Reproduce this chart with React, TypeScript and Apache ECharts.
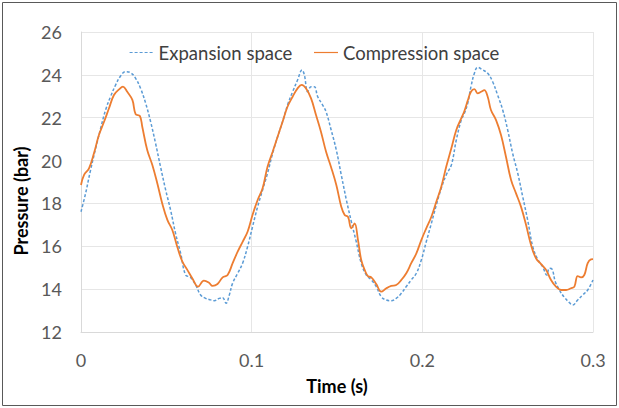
import React, { useEffect, useRef } from "react";
import * as echarts from "echarts";

const expansionTime = [0, 0.0027, 0.0056, 0.0086, 0.0115, 0.0144, 0.0173, 0.0203, 0.0232, 0.0261, 0.0291, 0.032, 0.0349, 0.0379, 0.0408, 0.0437, 0.0466, 0.0496, 0.0525, 0.0554, 0.0584, 0.0613, 0.0642, 0.0672, 0.0701, 0.073, 0.0759, 0.0781, 0.081, 0.083, 0.085, 0.0869, 0.0888, 0.0918, 0.0947, 0.0976, 0.1005, 0.1035, 0.1064, 0.1093, 0.1123, 0.1152, 0.1181, 0.121, 0.124, 0.1269, 0.1295, 0.1309, 0.1328, 0.1348, 0.1367, 0.1387, 0.1416, 0.1436, 0.1465, 0.1496, 0.1525, 0.1555, 0.1584, 0.1613, 0.1642, 0.1672, 0.1701, 0.173, 0.1759, 0.1789, 0.1818, 0.1847, 0.1877, 0.1906, 0.1935, 0.1965, 0.1994, 0.2023, 0.2053, 0.2082, 0.2111, 0.214, 0.217, 0.2199, 0.2228, 0.2246, 0.2266, 0.2285, 0.2305, 0.2324, 0.2354, 0.2383, 0.2412, 0.2441, 0.2471, 0.25, 0.2529, 0.2559, 0.2588, 0.2617, 0.2647, 0.2676, 0.2705, 0.2729, 0.2744, 0.276, 0.2779, 0.2803, 0.2832, 0.2862, 0.2881, 0.291, 0.294, 0.2969, 0.3];
const expansionPressure = [17.61, 18.47, 19.56, 20.57, 21.5, 22.36, 22.98, 23.53, 23.95, 24.15, 24.1, 23.84, 23.37, 22.67, 21.81, 20.8, 19.71, 18.63, 17.69, 16.6, 15.67, 14.66, 14.55, 14.19, 13.73, 13.57, 13.5, 13.46, 13.57, 13.6, 13.34, 13.73, 14.27, 14.74, 15.21, 15.98, 16.91, 17.85, 18.63, 19.41, 20.34, 21.11, 21.81, 22.59, 23.21, 23.76, 24.23, 23.99, 23.21, 23.45, 23.45, 22.98, 22.59, 22.28, 21.45, 20.49, 19.33, 18.16, 17.15, 16.21, 15.21, 14.66, 14.43, 14.12, 13.65, 13.49, 13.46, 13.57, 13.81, 14.12, 14.43, 14.74, 15.36, 16.21, 17.07, 17.93, 18.71, 19.33, 19.79, 20.96, 21.89, 22.2, 22.67, 23.45, 24.07, 24.35, 24.23, 24.07, 23.68, 23.06, 22.36, 21.43, 20.34, 19.41, 18.32, 17.23, 15.98, 15.39, 15.05, 14.66, 14.97, 14.93, 14.35, 13.96, 13.62, 13.37, 13.26, 13.49, 13.73, 13.96, 14.43];

const compressionTime = [0, 0.0018, 0.0047, 0.0076, 0.0105, 0.0135, 0.0164, 0.0193, 0.0223, 0.0246, 0.0271, 0.0301, 0.032, 0.0345, 0.0359, 0.0388, 0.0418, 0.0447, 0.0476, 0.0506, 0.0535, 0.0564, 0.0594, 0.0623, 0.0652, 0.0686, 0.072, 0.075, 0.0771, 0.08, 0.083, 0.0859, 0.0888, 0.0918, 0.0947, 0.0976, 0.1005, 0.1035, 0.1064, 0.1093, 0.1123, 0.1152, 0.1181, 0.121, 0.124, 0.1269, 0.1293, 0.1318, 0.1348, 0.1377, 0.1406, 0.1436, 0.1465, 0.1496, 0.1525, 0.1545, 0.1564, 0.1584, 0.1603, 0.1623, 0.1642, 0.1662, 0.1681, 0.1701, 0.173, 0.1759, 0.1789, 0.1818, 0.1847, 0.1877, 0.1906, 0.1935, 0.1965, 0.1994, 0.2023, 0.2053, 0.2082, 0.2111, 0.214, 0.217, 0.2199, 0.2228, 0.2246, 0.2266, 0.2285, 0.2305, 0.2324, 0.2344, 0.2363, 0.2383, 0.2402, 0.2432, 0.2461, 0.249, 0.252, 0.2549, 0.2578, 0.2608, 0.2637, 0.2666, 0.2696, 0.2725, 0.2754, 0.2783, 0.2813, 0.2842, 0.2871, 0.2891, 0.291, 0.293, 0.2949, 0.2969, 0.2988, 0.3];
const compressionPressure = [18.86, 19.33, 19.64, 20.34, 21.19, 21.81, 22.44, 23.06, 23.32, 23.45, 23.21, 22.83, 22.17, 22.08, 21.58, 20.49, 19.79, 18.94, 18.0, 17.23, 16.76, 15.98, 15.28, 14.9, 14.51, 14.12, 14.4, 14.3, 14.15, 14.24, 14.55, 14.66, 15.2, 15.75, 16.21, 16.68, 17.46, 18.16, 18.71, 19.71, 20.41, 21.11, 21.81, 22.51, 22.98, 23.37, 23.53, 23.37, 22.9, 22.13, 21.35, 20.41, 19.7, 18.86, 17.85, 17.46, 17.38, 16.84, 17.07, 16.29, 15.36, 14.9, 14.61, 14.55, 14.24, 13.88, 14.04, 14.15, 14.19, 14.43, 14.74, 15.21, 15.67, 16.29, 16.84, 17.38, 18.08, 18.78, 19.71, 20.57, 21.43, 21.97, 22.3, 22.8, 23.21, 23.33, 23.14, 23.21, 23.29, 22.98, 22.36, 21.89, 21.19, 20.18, 19.09, 18.47, 17.85, 16.99, 16.06, 15.44, 15.17, 14.9, 14.43, 14.12, 13.96, 13.96, 14.04, 14.12, 14.61, 14.55, 14.66, 15.21, 15.39, 15.4];

const seriesNames = ["Expansion space", "Compression space"];
const xTicks = [0, 0.1, 0.2, 0.3];
const xAxisTitle = "Time (s)";
const yAxisTitle = "Pressure (bar)";

const FONT = "Lato, 'Open Sans', sans-serif";

export default function App() {
  const ref = useRef<HTMLDivElement>(null);
  useEffect(() => {
    if (!ref.current) return;
    const chart = echarts.init(ref.current, null, { renderer: "svg" });
    const expansion = expansionTime.map((t, i) => [t, expansionPressure[i]]);
    const compression = compressionTime.map((t, i) => [t, compressionPressure[i]]);
    chart.setOption({
      animation: false,
      backgroundColor: "#ffffff",
      textStyle: { fontFamily: FONT },
      grid: { left: 81, right: 26, top: 32, bottom: 76, containLabel: false },
      legend: {
        left: 124,
        top: 38,
        itemWidth: 24,
        itemHeight: 10,
        itemGap: 21,
        itemStyle: { opacity: 0 },
        lineStyle: { width: 1.2 },
        textStyle: { fontSize: 18.5, color: "#404040", fontFamily: FONT },
        data: seriesNames,
      },
      xAxis: {
        type: "value",
        min: 0,
        max: 0.3,
        interval: 0.1,
        name: xAxisTitle,
        nameLocation: "middle",
        nameGap: 45,
        nameTextStyle: { fontSize: 18, fontWeight: "bold", color: "#000000", fontFamily: FONT },
        axisLine: { show: true, lineStyle: { color: "#d9d9d9", width: 1 } },
        axisTick: { show: false },
        axisLabel: {
          fontSize: 18,
          color: "#595959",
          margin: 19,
          formatter: (v: number) => {
            const m = xTicks.find((x) => Math.abs(x - v) < 1e-9);
            return m === undefined ? "" : String(m);
          },
        },
        splitLine: { show: true, lineStyle: { color: "#e6e6e6", width: 1 } },
      },
      yAxis: {
        type: "value",
        min: 12,
        max: 26,
        interval: 2,
        name: yAxisTitle,
        nameLocation: "middle",
        nameGap: 51,
        nameTextStyle: {
          fontSize: 18,
          fontWeight: "bold",
          color: "#000000",
          fontFamily: FONT,
          padding: [0, 38, 0, 0],
        },
        axisLine: { show: true, lineStyle: { color: "#d9d9d9", width: 1 } },
        axisTick: { show: false },
        axisLabel: { fontSize: 18, color: "#595959", margin: 19 },
        splitLine: { show: true, lineStyle: { color: "#e6e6e6", width: 1 } },
      },
      graphic: [
        {
          type: "rect",
          shape: { x: 2.5, y: 2.5, width: 614, height: 403 },
          style: { fill: "none", stroke: "#595959", lineWidth: 1 },
          silent: true,
        },
        {
          type: "line",
          shape: { x1: 593.5, y1: 32, x2: 593.5, y2: 332 },
          style: { stroke: "#e6e6e6", lineWidth: 1 },
          silent: true,
        },
      ],
      series: [
        {
          name: seriesNames[0],
          type: "line",
          data: expansion,
          symbol: "none",
          smooth: 0.4,
          lineStyle: { color: "#5b9bd5", width: 1.5, type: [3, 2] },
          itemStyle: { color: "#5b9bd5" },
          z: 2,
        },
        {
          name: seriesNames[1],
          type: "line",
          data: compression,
          symbol: "none",
          smooth: 0.4,
          lineStyle: { color: "#ed7d31", width: 1.8 },
          itemStyle: { color: "#ed7d31" },
          z: 3,
        },
      ],
    });
    return () => chart.dispose();
  }, []);
  return (
    <div
      ref={ref}
      style={{ position: "fixed", left: 0, top: 0, width: 619, height: 408 }}
    />
  );
}
